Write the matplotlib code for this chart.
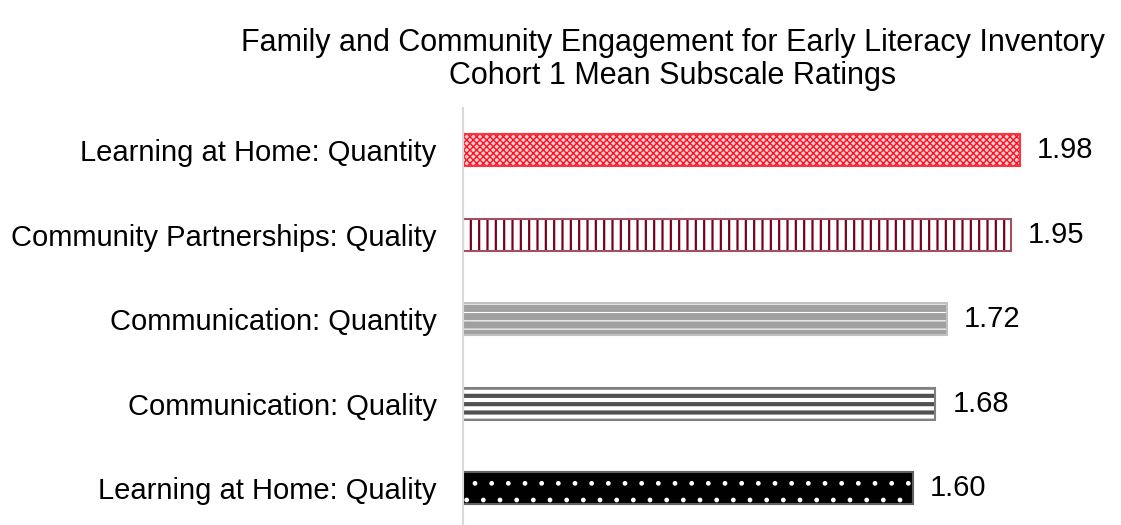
import matplotlib
matplotlib.use("Agg")
import matplotlib.pyplot as plt

categories = [
    "Learning at Home: Quantity",
    "Community Partnerships: Quality",
    "Communication: Quantity",
    "Communication: Quality",
    "Learning at Home: Quality",
]
values = [1.98, 1.95, 1.72, 1.68, 1.60]
title_lines = [
    "Family and Community Engagement for Early Literacy Inventory",
    "Cohort 1 Mean Subscale Ratings",
]

# face, hatch colour, hatch, hatch width, outline
styles = [
    ("#ffd0d4", "#ff1020", "xxxxx", 1.0, "#ff3040"),
    ("white", "#7a0020", "||", 1.6, "#a05060"),
    ("#a0a0a0", "white", "--", 0.8, "#c0c0c0"),
    ("white", "#505050", "--", 3.0, "#808080"),
    ("black", "white", ".", 1.0, "#606060"),
]

plt.rcParams["font.family"] = ["Liberation Sans", "DejaVu Sans"]

fig = plt.figure(figsize=(11.21, 5.25), dpi=100)
ax = fig.add_axes([0.413, -0.0105, 0.587, 0.805])

ypos = list(range(len(categories)))
for y, v, (face, hc, hatch, hw, edge) in zip(ypos, values, styles):
    with plt.rc_context({"hatch.linewidth": hw}):
        bars = ax.barh(y, v, height=0.38, color=face, edgecolor=hc, hatch=hatch, linewidth=0)
        for b in bars:
            if hasattr(b, "set_hatch_linewidth"):
                b.set_hatch_linewidth(hw)
    ax.barh(y, v, height=0.38, fill=False, edgecolor=edge, linewidth=1.5)
    ax.text(v + 0.06, y, f"{v:.2f}", va="center", ha="left", fontsize=21)

ax.set_xlim(0, 2.34)
ax.set_ylim(len(categories) - 0.5, -0.5)
ax.set_yticks(ypos)
ax.set_yticklabels(categories, fontsize=21)
ax.tick_params(axis="y", length=0, pad=19)
ax.set_xticks([])
for s in ["top", "right", "bottom"]:
    ax.spines[s].set_visible(False)
ax.spines["left"].set_color("#d9d9d9")
ax.spines["left"].set_linewidth(1.5)

fig.text(0.6, 0.918, title_lines[0], ha="center", va="center", fontsize=22)
fig.text(0.6, 0.855, title_lines[1], ha="center", va="center", fontsize=22)

fig.savefig("out.png", dpi=100)
